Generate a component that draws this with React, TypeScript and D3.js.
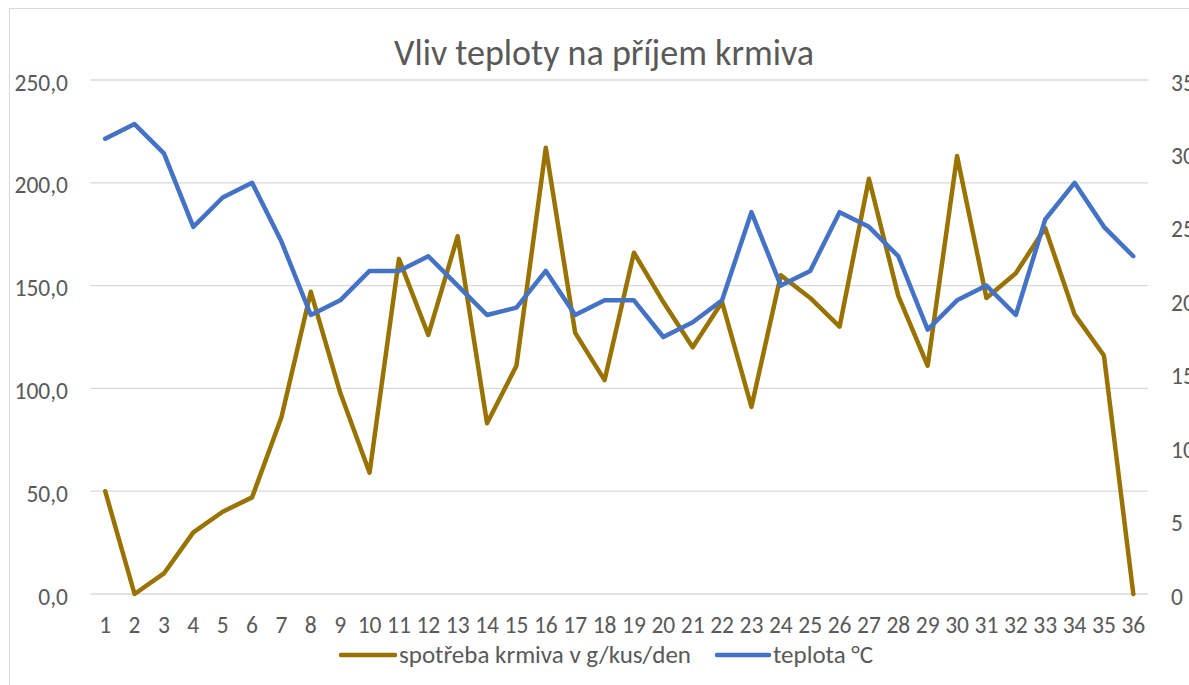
import React from "react";
import * as d3 from "d3";

const categories: string[] = Array.from({ length: 36 }, (_, i) => String(i + 1));

const feedValues: number[] = [
  50, 0, 10, 30, 40, 47, 86, 147, 98, 59,
  163, 126, 174, 83, 111, 217, 127, 104, 166, 142,
  120, 142, 91, 155, 144, 130, 202, 145, 111, 213,
  144, 156, 178, 136, 116, 0,
];

const tempValues: number[] = [
  31, 32, 30, 25, 27, 28, 24, 19, 20, 22,
  22, 23, 21, 19, 19.5, 22, 19, 20, 20, 17.5,
  18.5, 20, 26, 21, 22, 26, 25, 23, 18, 20,
  21, 19, 25.5, 28, 25, 23,
];

const leftTicks: number[] = [0, 50, 100, 150, 200, 250];
const rightTicks: number[] = [0, 5, 10, 15, 20, 25, 30, 35];

const title = "Vliv teploty na příjem krmiva";
const seriesNames: string[] = ["spotřeba krmiva v g/kus/den", "teplota °C"];
const seriesColors: string[] = ["#997300", "#4472C4"];

const W = 1189;
const H = 685;
const FONT = "Carlito, Calibri, 'Open Sans', 'Noto Sans', sans-serif";

export default function App() {
  const plotLeft = 90.5;
  const plotRight = 1148;
  const plotTop = 80;
  const plotBottom = 594;

  const x = d3.scaleBand<string>().domain(categories).range([plotLeft, plotRight]);
  const xc = (c: string) => (x(c) as number) + x.bandwidth() / 2;
  const yL = d3.scaleLinear().domain([0, 250]).range([plotBottom, plotTop]);
  const yR = d3.scaleLinear().domain([0, 35]).range([plotBottom, plotTop]);

  const feedLine = d3
    .line<number>()
    .x((_, i) => xc(categories[i]))
    .y((d) => yL(d));
  const tempLine = d3
    .line<number>()
    .x((_, i) => xc(categories[i]))
    .y((d) => yR(d));

  const fmt = (v: number) => v.toFixed(1).replace(".", ",");

  return (
    <svg
      width={W}
      height={H}
      style={{ position: "absolute", left: 0, top: 0, background: "#fff" }}
      fontFamily={FONT}
    >
      <rect x={0} y={0} width={W} height={H} fill="#fff" />
      <rect x={9.5} y={8.5} width={W + 20} height={H + 20} fill="none" stroke="#d9d9d9" strokeWidth={1} />

      <text x={604} y={65} textAnchor="middle" fontSize={36} fill="#595959">
        {title}
      </text>

      {leftTicks.map((t) => (
        <line key={"g" + t} x1={plotLeft} x2={plotRight} y1={yL(t)} y2={yL(t)} stroke="#d9d9d9" strokeWidth={1.3} />
      ))}

      {leftTicks.map((t) => (
        <text key={"l" + t} x={68} y={yL(t) + 10.5} textAnchor="end" fontSize={23.5} fill="#595959">
          {fmt(t)}
        </text>
      ))}

      {rightTicks.map((t) => (
        <text key={"r" + t} x={1171} y={yR(t) + 10.5} textAnchor="start" fontSize={23.5} fill="#595959">
          {t}
        </text>
      ))}

      {categories.map((c) => (
        <text key={"x" + c} x={xc(c)} y={633} textAnchor="middle" fontSize={23.5} fill="#595959">
          {c}
        </text>
      ))}

      <path d={feedLine(feedValues) || ""} fill="none" stroke={seriesColors[0]} strokeWidth={4.5} strokeLinejoin="round" strokeLinecap="round" />
      <path d={tempLine(tempValues) || ""} fill="none" stroke={seriesColors[1]} strokeWidth={4.5} strokeLinejoin="round" strokeLinecap="round" />

      <line x1={341} x2={395} y1={655} y2={655} stroke={seriesColors[0]} strokeWidth={4.5} strokeLinecap="round" />
      <text x={399} y={663} fontSize={25} fill="#595959">
        {seriesNames[0]}
      </text>
      <line x1={717} x2={769} y1={655} y2={655} stroke={seriesColors[1]} strokeWidth={4.5} strokeLinecap="round" />
      <text x={773} y={663} fontSize={25} fill="#595959">
        {seriesNames[1]}
      </text>
    </svg>
  );
}
